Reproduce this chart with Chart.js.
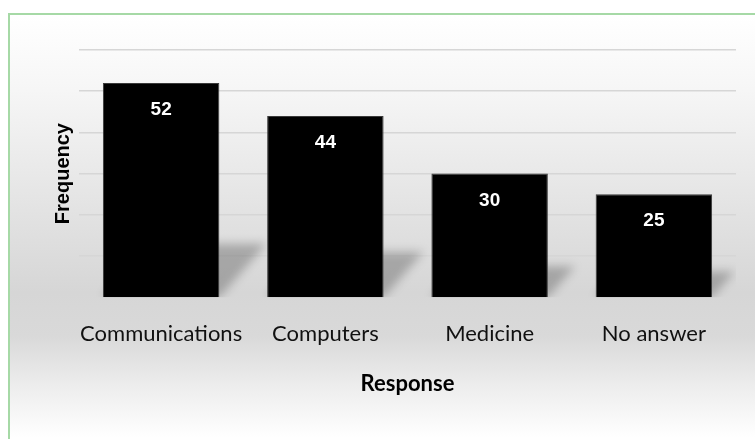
<!DOCTYPE html>
<html>
<head>
<meta charset="utf-8">
<script src="https://cdn.jsdelivr.net/npm/chart.js@4.4.1/dist/chart.umd.min.js"></script>
<style>
  html, body { margin: 0; padding: 0; overflow: hidden; background: #fff; }
  .frame {
    position: absolute; left: 8px; top: 13px; width: 760px; height: 440px;
    border: 2.5px solid #a6d9a6;
    background: linear-gradient(to bottom, #ffffff 0%, #f6f6f6 17%, #e6e6e6 40%, #d6d6d6 63%, #d9d9d9 73%, #eeeeee 85%, #ffffff 96%);
  }
  .wrap { position: absolute; left: 0; top: 0; width: 755px; height: 439px; }
</style>
</head>
<body>
<div class="frame"></div>
<div class="wrap"><canvas id="responseChart"></canvas></div>
<script>
// Survey responses
const categories = ['Communications', 'Computers', 'Medicine', 'No answer'];
const frequencies = [52, 44, 30, 25];
const yTicks = [10, 20, 30, 40, 50, 60];

// Soft slanted shadow behind each bar
const barShadow = {
  id: 'barShadow',
  beforeDatasetsDraw(chart) {
    const ctx = chart.ctx;
    const area = chart.chartArea;
    ctx.save();
    ctx.beginPath();
    ctx.rect(area.left, area.top, area.right - area.left, area.bottom - area.top);
    ctx.clip();
    ctx.filter = 'blur(5px)';
    ctx.fillStyle = 'rgba(0, 0, 0, 0.24)';
    chart.getDatasetMeta(0).data.forEach(bar => {
      const h = bar.base - bar.y;
      const l = bar.x - bar.width / 2;
      const r = bar.x + bar.width / 2;
      const dx = h * 0.22, dy = h * 0.25;
      ctx.beginPath();
      ctx.moveTo(l, bar.base);
      ctx.lineTo(r, bar.base);
      ctx.lineTo(r + dx, bar.base - dy);
      ctx.lineTo(l + dx, bar.base - dy);
      ctx.closePath();
      ctx.fill();
    });
    ctx.restore();
  }
};

// White value labels inside the top of each bar
const valueLabels = {
  id: 'valueLabels',
  afterDatasetsDraw(chart) {
    const ctx = chart.ctx;
    ctx.save();
    ctx.font = 'bold 19px "Liberation Sans", Arial, sans-serif';
    ctx.fillStyle = '#ffffff';
    ctx.textAlign = 'center';
    ctx.textBaseline = 'middle';
    chart.getDatasetMeta(0).data.forEach((bar, i) => {
      ctx.fillText(frequencies[i], bar.x, bar.y + 27);
    });
    ctx.restore();
  }
};

new Chart(document.getElementById('responseChart'), {
  type: 'bar',
  data: {
    labels: categories,
    datasets: [{
      data: frequencies,
      backgroundColor: '#000000',
      borderColor: '#3a3a3a',
      borderWidth: 1,
      categoryPercentage: 1,
      barPercentage: 0.709
    }]
  },
  options: {
    responsive: true,
    maintainAspectRatio: false,
    animation: false,
    layout: { padding: { left: 51, right: 19, top: 50, bottom: 38 } },
    plugins: {
      legend: { display: false },
      tooltip: { enabled: false }
    },
    scales: {
      x: {
        grid: { display: false },
        border: { display: false },
        ticks: {
          color: '#111',
          padding: 16,
          maxRotation: 0,
          minRotation: 0,
          autoSkip: false,
          font: { family: 'Lato', size: 22 }
        },
        title: {
          display: true,
          text: 'Response',
          color: '#000',
          padding: { top: 7 },
          font: { family: 'Lato', size: 22, weight: 'bold' }
        }
      },
      y: {
        min: 0,
        max: 60,
        afterBuildTicks(scale) {
          scale.ticks = yTicks.map(v => ({ value: v }));
        },
        afterFit(scale) { scale.width = 28; },
        grid: {
          color: '#d6d6d6',
          lineWidth: 1.5,
          drawTicks: false
        },
        border: { display: false },
        ticks: { display: false },
        title: {
          display: true,
          text: 'Frequency',
          color: '#000',
          padding: { top: 0, bottom: 0 },
          font: { family: '"Liberation Sans", Arial, sans-serif', size: 20, weight: 'bold' }
        }
      }
    }
  },
  plugins: [barShadow, valueLabels]
});
</script>
</body>
</html>
